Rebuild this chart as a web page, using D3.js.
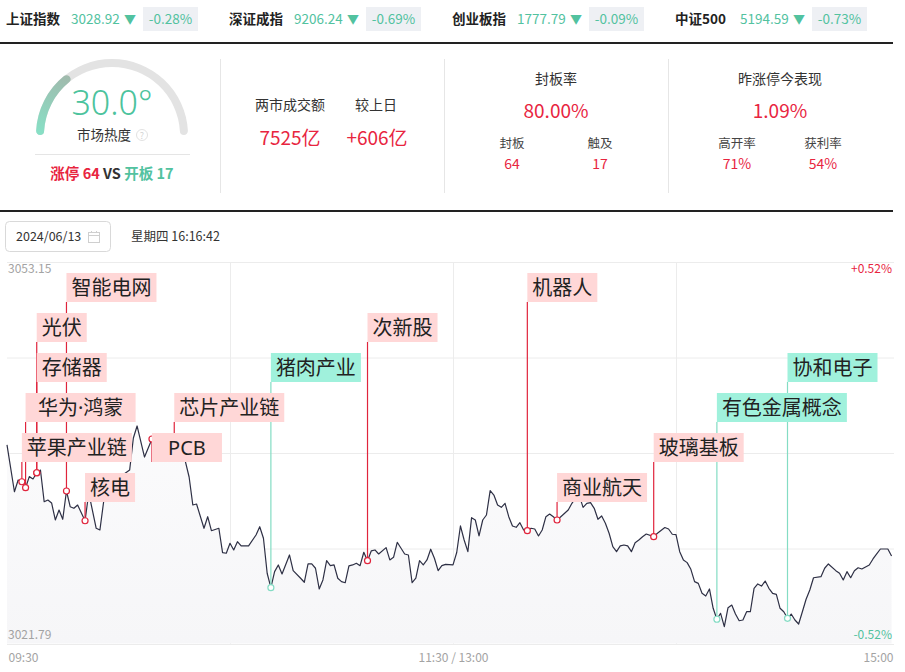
<!DOCTYPE html>
<html>
<head>
<meta charset="utf-8">
<script src="https://cdn.jsdelivr.net/npm/d3@7"></script>
<style>
  body { margin: 0; background: #fff; }
  svg { display: block; font-family: "Noto Sans CJK SC", "Noto Sans", sans-serif; }
</style>
</head>
<body>
<div id="chart"></div>
<script>
// ---- data ----
const indexNames = ['上证指数', '深证成指', '创业板指', '中证500'];
const indexValues = [3028.92, 9206.24, 1777.79, 5194.59];
const indexChanges = [-0.28, -0.69, -0.09, -0.73];

const heatValue = 30.0;
const limitUpCount = 64;
const brokenCount = 17;
const turnover = 7525;
const turnoverDiff = 606;
const sealRate = 80.00;
const sealedCount = 64;
const touchedCount = 17;
const yesterdayPerf = 1.09;
const highOpenRate = 71;
const profitRate = 54;

const tradeDate = '2024/06/13';
const weekday = '星期四';
const clockTime = '16:16:42';

const yMax = 3053.15;
const yMin = 3021.79;
const timeTicks = ['09:30', '11:30 / 13:00', '15:00'];

// minute index from 09:30 (0..240) and index level
const minutes = [
  0, 2, 3, 4, 5, 6, 7, 8, 9, 10, 11, 12, 13, 14, 15, 16, 17, 18, 19, 21,
  22, 24, 25, 26, 28, 30, 33, 34, 35, 37, 39, 41, 43, 45, 47, 48, 49, 50, 51, 53,
  54, 55, 57, 58, 59, 60, 61, 62, 63, 65, 67, 68, 69, 70, 71, 72, 73, 74, 76, 77,
  79, 80, 81, 82, 83, 84, 85, 86, 87, 88, 89, 90, 91, 92, 93, 94, 95, 96, 97, 98,
  99, 100, 102, 103, 104, 105, 107, 108, 109, 110, 111, 112, 113, 114, 115, 116, 117, 118, 120, 121,
  122, 123, 124, 125, 126, 127, 128, 129, 130, 131, 132, 133, 134, 135, 136, 137, 138, 139, 140, 141,
  142, 143, 144, 145, 146, 147, 148, 149, 151, 152, 153, 154, 155, 156, 157, 158, 159, 160, 161, 162,
  163, 164, 165, 166, 167, 168, 169, 170, 171, 172, 174, 175, 177, 178, 179, 180, 181, 182, 183, 184,
  185, 186, 187, 188, 189, 190, 191, 192, 193, 194, 195, 196, 197, 198, 199, 200, 201, 202, 203, 204,
  205, 206, 207, 208, 209, 210, 211, 212, 213, 214, 215, 216, 217, 219, 220, 221, 223, 224, 225, 226,
  227, 228, 229, 230, 232, 233, 234, 235, 237, 238
];
const prices = [
  3038.13, 3034.29, 3035.25, 3035.11, 3034.62, 3035.53, 3035.34, 3035.85, 3036.07, 3033.47,
  3033.61, 3033.37, 3031.97, 3032.79, 3032.03, 3034.35, 3033.06, 3032.93, 3033.20, 3031.91,
  3034.19, 3031.29, 3031.15, 3033.47, 3034.84, 3035.42, 3036.07, 3038.70, 3039.69, 3037.14,
  3038.62, 3038.54, 3038.95, 3038.13, 3037.72, 3036.76, 3035.50, 3033.20, 3033.28, 3031.29,
  3032.24, 3031.09, 3031.29, 3029.29, 3029.24, 3030.06, 3029.51, 3030.19, 3029.84, 3029.84,
  3030.74, 3031.42, 3030.47, 3027.60, 3026.41, 3027.73, 3028.28, 3027.54, 3029.10, 3027.81,
  3027.19, 3026.86, 3028.36, 3028.36, 3028.01, 3026.31, 3027.05, 3028.63, 3028.22, 3028.28,
  3027.19, 3026.91, 3026.82, 3028.20, 3028.28, 3028.42, 3028.22, 3029.32, 3028.63, 3029.43,
  3029.51, 3029.18, 3029.70, 3028.69, 3028.91, 3030.14, 3029.18, 3029.10, 3026.82, 3027.19,
  3028.63, 3028.28, 3028.69, 3029.57, 3028.83, 3027.81, 3028.22, 3028.33, 3028.28, 3029.30,
  3031.48, 3030.33, 3029.37, 3032.16, 3031.97, 3030.66, 3031.97, 3032.38, 3034.38, 3034.02,
  3033.20, 3033.01, 3033.34, 3032.24, 3031.48, 3031.37, 3031.75, 3031.15, 3031.09, 3031.29,
  3031.23, 3030.66, 3031.15, 3032.24, 3032.46, 3032.24, 3031.97, 3032.24, 3032.79, 3033.34,
  3033.80, 3033.95, 3033.01, 3033.34, 3033.39, 3032.93, 3032.03, 3032.30, 3031.70, 3030.88,
  3029.78, 3029.37, 3029.84, 3029.92, 3029.84, 3029.37, 3030.11, 3030.33, 3030.60, 3030.82,
  3030.60, 3030.88, 3031.35, 3031.23, 3030.80, 3030.77, 3029.37, 3028.69, 3028.47, 3027.92,
  3026.91, 3026.77, 3025.95, 3025.73, 3026.31, 3024.72, 3023.82, 3024.31, 3023.21, 3024.77,
  3024.99, 3024.25, 3023.70, 3023.76, 3024.44, 3024.44, 3026.36, 3026.72, 3026.55, 3026.96,
  3026.36, 3025.95, 3025.87, 3024.72, 3024.44, 3023.90, 3024.25, 3023.76, 3023.43, 3024.44,
  3025.46, 3026.22, 3027.23, 3027.32, 3028.01, 3028.36, 3027.81, 3027.60, 3027.05, 3027.73,
  3027.23, 3027.81, 3028.05, 3027.95, 3028.28, 3028.77, 3029.18, 3029.59, 3029.59, 3029.02
];

// sector events pinned on the line, in time order
const eventNames = ['苹果产业链', '华为·鸿蒙', '存储器', '光伏', '智能电网', '核电', 'PCB', '芯片产业链',
  '猪肉产业', '次新股', '机器人', '商业航天', '玻璃基板', '有色金属概念', '协和电子'];
const eventMinutes = [4, 5, 8, 8, 16, 21, 39, 45, 71, 97, 140, 148, 174, 191, 210];
const eventKinds = ['up', 'up', 'up', 'up', 'up', 'up', 'up', 'up',
  'down', 'up', 'up', 'up', 'up', 'down', 'down'];

// ---- colours ----
const red = '#e8253f';
const green = '#52c29f';
const pinColor = { up: '#e0243c', down: '#84dcc4' };
const boxColor = { up: '#ffd7d7', down: '#a0f1dc' };

const W = 905, H = 672;
const svg = d3.select('#chart').append('svg')
  .attr('width', W).attr('height', H);

const defs = svg.append('defs');

/* ===== header: index quotes ===== */
indexNames.forEach((name, i) => {
  const g = svg.append('g').attr('transform', `translate(${6 + i * 223},0)`);
  g.append('text').attr('x', 0).attr('y', 24)
    .attr('font-size', 13.5).attr('font-weight', 700).attr('fill', '#222').text(name);
  g.append('text').attr('x', 65).attr('y', 24)
    .attr('font-size', 13.5).attr('fill', green).text(indexValues[i].toFixed(2));
  g.append('text').attr('x', 118).attr('y', 23.5)
    .attr('font-size', 12).attr('fill', green).text(indexChanges[i] < 0 ? '▼' : '▲');
  g.append('rect').attr('x', 137).attr('y', 7).attr('width', 55).attr('height', 24)
    .attr('fill', '#eef0f4');
  g.append('text').attr('x', 164.5).attr('y', 24).attr('text-anchor', 'middle')
    .attr('font-size', 13.5).attr('fill', green)
    .text((indexChanges[i] > 0 ? '+' : '') + indexChanges[i].toFixed(2) + '%');
});

svg.append('line').attr('x1', 0).attr('x2', 893).attr('y1', 43).attr('y2', 43)
  .attr('stroke', '#222').attr('stroke-width', 2);

/* ===== gauge ===== */
const gaugeC = { x: 112, y: 135 };
const arc = d3.arc().innerRadius(68).outerRadius(76).cornerRadius(4);
const grad = defs.append('linearGradient').attr('id', 'heatGrad')
  .attr('gradientUnits', 'userSpaceOnUse')
  .attr('x1', 40 - gaugeC.x).attr('y1', 138 - gaugeC.y)
  .attr('x2', 74 - gaugeC.x).attr('y2', 72 - gaugeC.y);
grad.append('stop').attr('offset', '0%').attr('stop-color', '#86e2c7');
grad.append('stop').attr('offset', '100%').attr('stop-color', '#a3b6aa');

const gauge = svg.append('g').attr('transform', `translate(${gaugeC.x},${gaugeC.y})`);
gauge.append('path')
  .attr('d', arc({ startAngle: -Math.PI / 2, endAngle: Math.PI / 2 }))
  .attr('fill', '#e3e3e3');
gauge.append('path')
  .attr('d', arc({ startAngle: -Math.PI / 2, endAngle: -Math.PI / 2 + Math.PI * heatValue / 100 }))
  .attr('fill', 'url(#heatGrad)');

svg.append('text').attr('x', 112).attr('y', 115).attr('text-anchor', 'middle')
  .attr('font-family', '"Noto Sans", sans-serif').attr('font-weight', 300)
  .attr('font-size', 34).attr('fill', '#4cc39d').text(heatValue.toFixed(1) + '°');
svg.append('text').attr('x', 104).attr('y', 140).attr('text-anchor', 'middle')
  .attr('font-size', 13.5).attr('fill', '#333').text('市场热度');
svg.append('circle').attr('cx', 142).attr('cy', 135).attr('r', 5.5)
  .attr('fill', 'none').attr('stroke', '#e2e2e2');
svg.append('text').attr('x', 142).attr('y', 138.5).attr('text-anchor', 'middle')
  .attr('font-size', 9).attr('fill', '#d4d4d4').text('?');
svg.append('line').attr('x1', 35).attr('x2', 190).attr('y1', 154.5).attr('y2', 154.5)
  .attr('stroke', '#e5e5e5');

const vs = svg.append('text').attr('x', 112).attr('y', 179).attr('text-anchor', 'middle')
  .attr('font-size', 14.5).attr('font-weight', 700);
vs.append('tspan').attr('fill', red).text(`涨停 ${limitUpCount} `);
vs.append('tspan').attr('fill', '#333').text('VS ');
vs.append('tspan').attr('fill', green).text(`开板 ${brokenCount}`);

/* ===== stat panels ===== */
[220.5, 444.5, 668.5].forEach(xx => {
  svg.append('line').attr('x1', xx).attr('x2', xx).attr('y1', 59).attr('y2', 193)
    .attr('stroke', '#e6e6e6');
});

function label(x, y, txt, size, color) {
  svg.append('text').attr('x', x).attr('y', y).attr('text-anchor', 'middle')
    .attr('font-size', size).attr('fill', color).text(txt);
}

label(290, 110, '两市成交额', 14, '#333');
label(376, 110, '较上日', 14, '#333');
label(290, 145, `${turnover}亿`, 19, red);
label(377, 145, `+${turnoverDiff}亿`, 19, red);

label(556, 84, '封板率', 14, '#333');
label(556, 118, sealRate.toFixed(2) + '%', 19, red);
label(512, 148, '封板', 12.5, '#444');
label(600, 148, '触及', 12.5, '#444');
label(512, 169, String(sealedCount), 14, red);
label(600, 169, String(touchedCount), 14, red);

label(780, 84, '昨涨停今表现', 14, '#333');
label(780, 118, yesterdayPerf.toFixed(2) + '%', 19, red);
label(737, 148, '高开率', 12.5, '#444');
label(823, 148, '获利率', 12.5, '#444');
label(737, 169, highOpenRate + '%', 14, red);
label(823, 169, profitRate + '%', 14, red);

svg.append('line').attr('x1', 0).attr('x2', 893).attr('y1', 211).attr('y2', 211)
  .attr('stroke', '#222').attr('stroke-width', 2);

/* ===== date row ===== */
svg.append('rect').attr('x', 5.5).attr('y', 221.5).attr('width', 105).attr('height', 30)
  .attr('rx', 4).attr('fill', '#fff').attr('stroke', '#d9d9d9');
svg.append('text').attr('x', 16).attr('y', 241).attr('font-size', 12.5).attr('fill', '#333')
  .text(tradeDate);
const cal = svg.append('g').attr('transform', 'translate(88,231)').attr('stroke', '#cfcfcf')
  .attr('fill', 'none');
cal.append('rect').attr('x', 0.5).attr('y', 1.5).attr('width', 11).attr('height', 10);
cal.append('line').attr('x1', 0.5).attr('x2', 11.5).attr('y1', 4.5).attr('y2', 4.5);
cal.append('line').attr('x1', 3.5).attr('x2', 3.5).attr('y1', 0).attr('y2', 2);
cal.append('line').attr('x1', 8.5).attr('x2', 8.5).attr('y1', 0).attr('y2', 2);
svg.append('text').attr('x', 131).attr('y', 241).attr('font-size', 12.5).attr('fill', '#333')
  .text(`${weekday} ${clockTime}`);

/* ===== intraday chart ===== */
const plot = { left: 7, right: 894, top: 262, bottom: 644 };
const x = d3.scaleLinear().domain([0, 240]).range([plot.left, 899]);
const y = d3.scaleLinear().domain([yMin, yMax]).range([plot.bottom, plot.top]);
const prevClose = (yMax + yMin) / 2;
const yTicks = d3.range(5).map(i => yMin + i * (yMax - yMin) / 4);

const hGrid = svg.append('g').attr('transform', `translate(${plot.left},0)`)
  .call(d3.axisLeft(y).tickValues(yTicks).tickSize(-(plot.right - plot.left)).tickFormat(''));
hGrid.select('.domain').remove();
hGrid.selectAll('line').attr('stroke', '#ececec');

const vGrid = svg.append('g').attr('transform', `translate(0,${plot.bottom})`)
  .call(d3.axisBottom(x).tickValues([60, 120, 180]).tickSize(-(plot.bottom - plot.top)).tickFormat(''));
vGrid.select('.domain').remove();
vGrid.selectAll('line').attr('stroke', '#ececec');

const series = minutes.map((m, i) => ({ m, p: prices[i] }));

const areaGrad = defs.append('linearGradient').attr('id', 'areaGrad')
  .attr('x1', 0).attr('y1', 0).attr('x2', 0).attr('y2', 1);
areaGrad.append('stop').attr('offset', '0%').attr('stop-color', '#fbfbfc');
areaGrad.append('stop').attr('offset', '100%').attr('stop-color', '#f6f6f8');

svg.append('path').datum(series)
  .attr('d', d3.area().x(d => x(d.m)).y0(plot.bottom - 0.5).y1(d => y(d.p)))
  .attr('fill', 'url(#areaGrad)');
svg.append('path').datum(series)
  .attr('d', d3.line().x(d => x(d.m)).y(d => y(d.p)))
  .attr('fill', 'none').attr('stroke', '#2e3045').attr('stroke-width', 1.2)
  .attr('stroke-linejoin', 'round');

// events: stacked rows cycle 4,3,2,1,0,5,...
const fontSize = 20, pad = 5, boxH = 29;
const events = eventNames.map((name, i) => {
  const p = prices[minutes.indexOf(eventMinutes[i])];
  const level = ((4 - i) % 6 + 6) % 6;
  return {
    name, kind: eventKinds[i],
    px: x(eventMinutes[i]), py: y(p),
    top: plot.top + 11 + level * 40,
    w: name.length * fontSize + pad * 2
  };
});

svg.selectAll('.pin').data(events).join('line')
  .attr('class', 'pin')
  .attr('x1', d => d.px).attr('x2', d => d.px)
  .attr('y1', d => d.top + boxH).attr('y2', d => d.py)
  .attr('stroke', d => pinColor[d.kind]).attr('stroke-width', 1.2);

svg.selectAll('.mark').data(events).join('circle')
  .attr('class', 'mark')
  .attr('cx', d => d.px).attr('cy', d => d.py).attr('r', 3)
  .attr('fill', '#fff').attr('stroke', d => pinColor[d.kind]).attr('stroke-width', 1.2);

const tags = svg.selectAll('.tag').data(events).join('g').attr('class', 'tag');
tags.append('rect')
  .attr('x', d => d.px).attr('y', d => d.top)
  .attr('width', d => d.w).attr('height', boxH)
  .attr('fill', d => boxColor[d.kind]);
tags.append('text')
  .attr('x', d => d.px + d.w / 2).attr('y', d => d.top + 22)
  .attr('text-anchor', 'middle').attr('font-size', fontSize).attr('fill', '#222')
  .attr('font-family', '"Noto Sans", "Noto Sans CJK SC", sans-serif')
  .text(d => d.name);

// price / percent labels
const pct = (yMax / prevClose - 1) * 100;
svg.append('text').attr('x', 8).attr('y', 273).attr('font-size', 12).attr('fill', '#a3a3a3')
  .text(yMax.toFixed(2));
svg.append('text').attr('x', 8).attr('y', 639).attr('font-size', 12).attr('fill', '#a3a3a3')
  .text(yMin.toFixed(2));
svg.append('text').attr('x', 892).attr('y', 273).attr('text-anchor', 'end')
  .attr('font-size', 12).attr('fill', red).text('+' + pct.toFixed(2) + '%');
svg.append('text').attr('x', 892).attr('y', 639).attr('text-anchor', 'end')
  .attr('font-size', 12).attr('fill', green).text('-' + pct.toFixed(2) + '%');

// time axis
const xAxis = svg.append('g').attr('transform', `translate(0,${plot.bottom})`)
  .call(d3.axisBottom(x).tickValues([0, 120, 240]).tickSize(0).tickPadding(9)
    .tickFormat((d, i) => timeTicks[i]));
xAxis.select('.domain').remove();
xAxis.selectAll('text').attr('font-size', 12).attr('fill', '#a3a3a3')
  .attr('font-family', '"Noto Sans CJK SC", "Noto Sans", sans-serif');
xAxis.selectAll('.tick').filter((d, i) => i === 0).select('text')
  .attr('text-anchor', 'start').attr('dx', 1);
xAxis.selectAll('.tick').filter((d, i) => i === 2).select('text')
  .attr('text-anchor', 'end').attr('dx', -6);
</script>
</body>
</html>
